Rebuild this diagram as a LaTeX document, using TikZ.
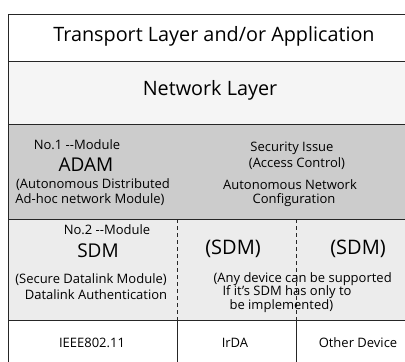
\documentclass[tikz,border=0pt]{standalone}
\usepackage{fontspec}
\setmainfont{Open Sans}
\begin{document}
\begin{tikzpicture}[x=1pt,y=-1pt,
  rule/.style={line width=0.9pt,black!85},
  divdash/.style={line width=0.8pt,black!85,dash pattern=on 4pt off 3pt},
  big/.style={font=\fontsize{19.8}{23}\selectfont},
  mid/.style={font=\fontsize{19}{21}\selectfont},
  paren/.style={font=\fontsize{20}{22}\selectfont},
  small/.style={font=\fontsize{13}{15}\selectfont},
  lbl/.style={font=\fontsize{13}{15}\selectfont}]
\useasboundingbox (0,0) rectangle (405,362);
% shading
\fill[gray!8] (8,61) rectangle (405,124);
\fill[gray!40] (8,124) rectangle (405,219);
\fill[gray!15] (8,219) rectangle (405,320);
% frame
\coordinate (tl) at (8,14);   \coordinate (tr) at (405,14);
\coordinate (l1) at (8,61);   \coordinate (r1) at (405,61);
\coordinate (l2) at (8,124);  \coordinate (r2) at (405,124);
\coordinate (l3) at (8,219);  \coordinate (r3) at (405,219);
\coordinate (l4) at (8,320);  \coordinate (r4) at (405,320);
\coordinate (bl) at (8,362);
\coordinate (da) at (177,219); \coordinate (db) at (177,320); \coordinate (dc) at (177,362);
\coordinate (ea) at (296,219); \coordinate (eb) at (296,320); \coordinate (ec) at (296,362);
\draw[rule] (tl) -- (tr);
\draw[rule] (l1) -- (r1);
\draw[rule] (l2) -- (r2);
\draw[rule] (l3) -- (r3);
\draw[rule] (l4) -- (r4);
\draw[rule] (tl) -- (bl);
\draw[divdash] (da) -- (db);
\draw[divdash] (ea) -- (eb);
\draw[rule] (db) -- (dc);
\draw[rule] (eb) -- (ec);
% texts
\node[big] (tr1) at (214,36) {Transport Layer and/or Application};
\node[big] (nl) at (210,90) {Network Layer};
\node[small] (m1) at (77,145) {No.1 -{}-Module};
\node[mid] (adam) at (86,165) {ADAM};
\node[small] (ad1) at (93,185) {(Autonomous Distributed};
\node[small] (ad2) at (90,200) {Ad-hoc network Module)};
\node[small] (sec1) at (292,148) {Security Issue};
\node[small] (sec2) at (297,164) {(Access Control)};
\node[small] (sec3) at (290,185) {Autonomous Network};
\node[small] (sec4) at (294,200) {Configuration};
\node[small] (m2) at (107,230) {No.2 -{}-Module};
\node[mid] (sdm) at (98,251) {SDM};
\node[small] (sd1) at (91,280) {(Secure Datalink Module)};
\node[small] (sd2) at (96,295) {Datalink Authentication};
\node[paren] (sdm2) at (233,249) {(SDM)};
\node[paren] (sdm3) at (358,249) {(SDM)};
\node[small,anchor=west] (any1) at (210,279) {(Any device can be supported};
\node[small,anchor=west] (any2) at (219,292) {If it's SDM has only to};
\node[small,anchor=west] (any3) at (226,306) {be implemented)};
\node[lbl] (ieee) at (92,343) {IEEE802.11};
\node[lbl] (irda) at (235,343) {IrDA};
\node[lbl] (oth) at (358,343) {Other Device};
\end{tikzpicture}
\end{document}
